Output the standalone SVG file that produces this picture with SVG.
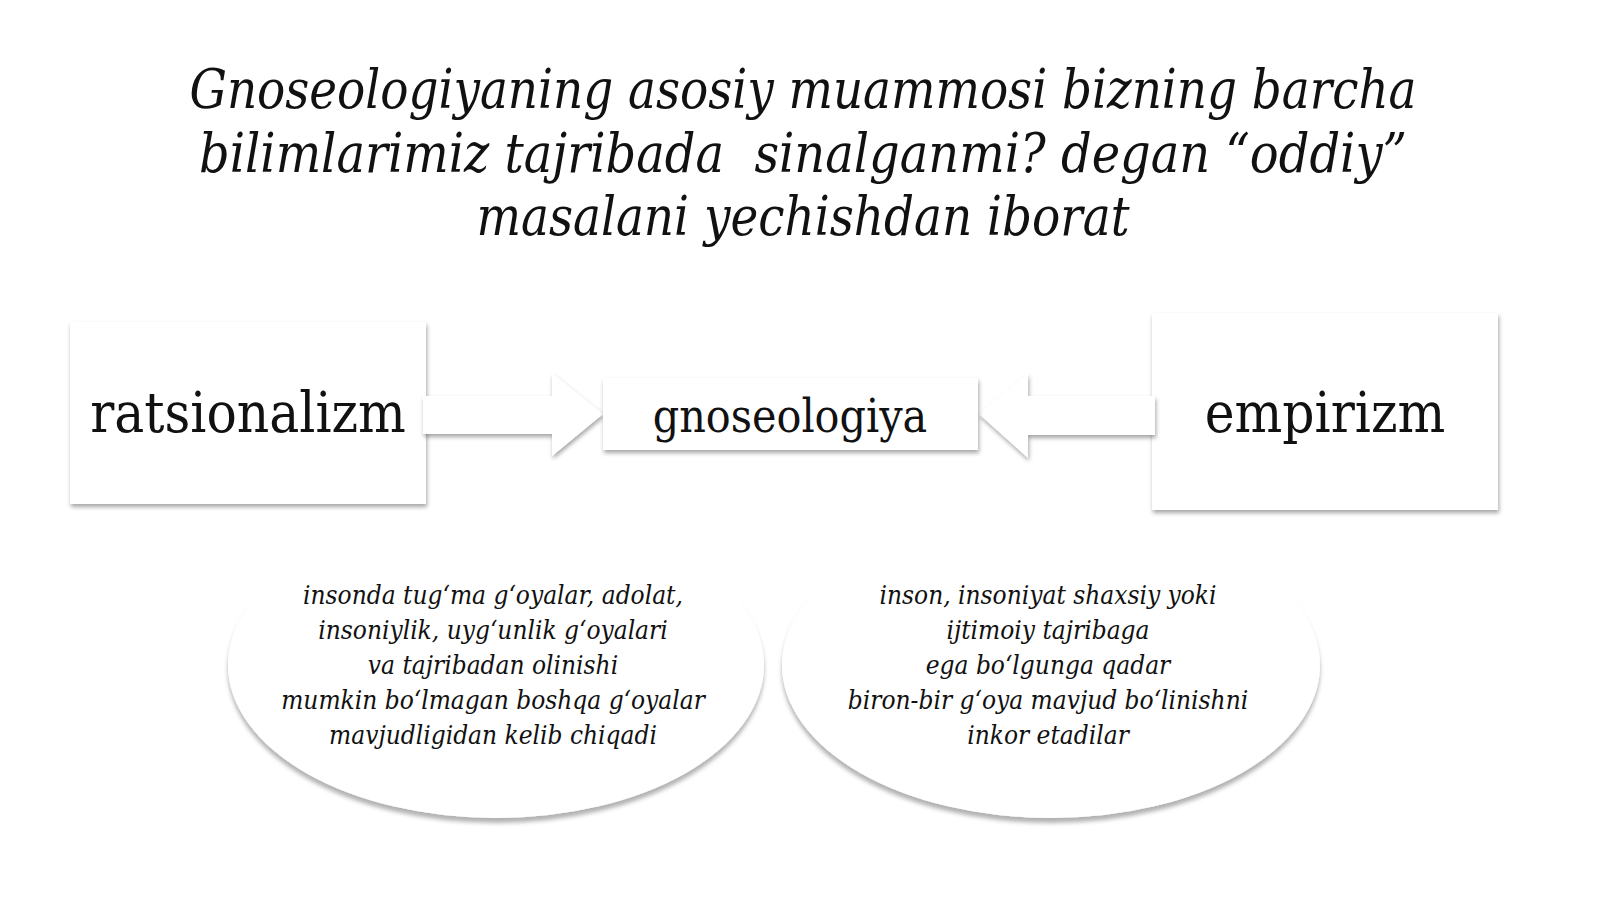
<svg xmlns="http://www.w3.org/2000/svg" width="1600" height="899" viewBox="0 0 1600 899">
<style>
.title{font-family:"DejaVu Serif Condensed","DejaVu Serif",serif;font-stretch:condensed;font-style:italic;font-size:55px;fill:#111;text-anchor:middle}
.lbl{font-family:"DejaVu Serif Condensed","DejaVu Serif",serif;font-stretch:condensed;fill:#111;text-anchor:middle}
.bt{font-family:"DejaVu Serif Condensed","DejaVu Serif",serif;font-stretch:condensed;font-style:italic;font-size:26px;fill:#111;text-anchor:middle}
.shape{fill:#fff;filter:url(#sh)}
.bub{fill:#fff;filter:url(#sh2)}
</style>
<defs>
<filter id="sh" x="-10%" y="-10%" width="120%" height="130%">
<feDropShadow dx="1" dy="3" stdDeviation="2.2" flood-color="#000" flood-opacity="0.35"/>
</filter>
<filter id="sh2" x="-10%" y="-10%" width="120%" height="130%">
<feDropShadow dx="0" dy="5" stdDeviation="2" flood-color="#000" flood-opacity="0.3"/>
</filter>
</defs>
<rect width="1600" height="899" fill="#fff"/>
<g id="title">
<text class="title" x="803" y="108" textLength="1227" lengthAdjust="spacingAndGlyphs">Gnoseologiyaning asosiy muammosi bizning barcha</text>
<text class="title" x="803" y="172" textLength="1208" lengthAdjust="spacingAndGlyphs" xml:space="preserve">bilimlarimiz tajribada  sinalganmi? degan “oddiy”</text>
<text class="title" x="803" y="235" textLength="653" lengthAdjust="spacingAndGlyphs">masalani yechishdan iborat</text>
</g>
<g id="bubble-left">
<ellipse class="bub" cx="496" cy="665" rx="268" ry="153"/>
<text class="bt" x="493" y="604">insonda tug‘ma g‘oyalar, adolat,</text>
<text class="bt" x="493" y="639">insoniylik, uyg‘unlik g‘oyalari</text>
<text class="bt" x="493" y="674">va tajribadan olinishi</text>
<text class="bt" x="493" y="709">mumkin bo‘lmagan boshqa g‘oyalar</text>
<text class="bt" x="493" y="744">mavjudligidan kelib chiqadi</text>
</g>
<g id="bubble-right">
<ellipse class="bub" cx="1051" cy="665" rx="269" ry="153"/>
<text class="bt" x="1048" y="604">inson, insoniyat shaxsiy yoki</text>
<text class="bt" x="1048" y="639">ijtimoiy tajribaga</text>
<text class="bt" x="1048" y="674">ega bo‘lgunga qadar</text>
<text class="bt" x="1048" y="709">biron-bir g‘oya mavjud bo‘linishni</text>
<text class="bt" x="1048" y="744">inkor etadilar</text>
</g>
<g id="node-ratsionalizm">
<rect class="shape" x="70" y="322" width="356" height="182"/>
<text class="lbl" x="248" y="432" font-size="56">ratsionalizm</text>
</g>
<g id="node-empirizm">
<rect class="shape" x="1152" y="313" width="346" height="197"/>
<text class="lbl" x="1325" y="432" font-size="56">empirizm</text>
</g>
<g id="connectors">
<polygon class="shape" points="423,396 552,396 552,373 603,414 552,456 552,434 423,434"/>
<polygon class="shape" points="1155,396 1028,396 1028,373 979,414 1028,458 1028,435 1155,435"/>
</g>
<g id="node-gnoseologiya">
<rect class="shape" x="603" y="378" width="375" height="72"/>
<text class="lbl" x="790" y="432" font-size="46">gnoseologiya</text>
</g>
</svg>
